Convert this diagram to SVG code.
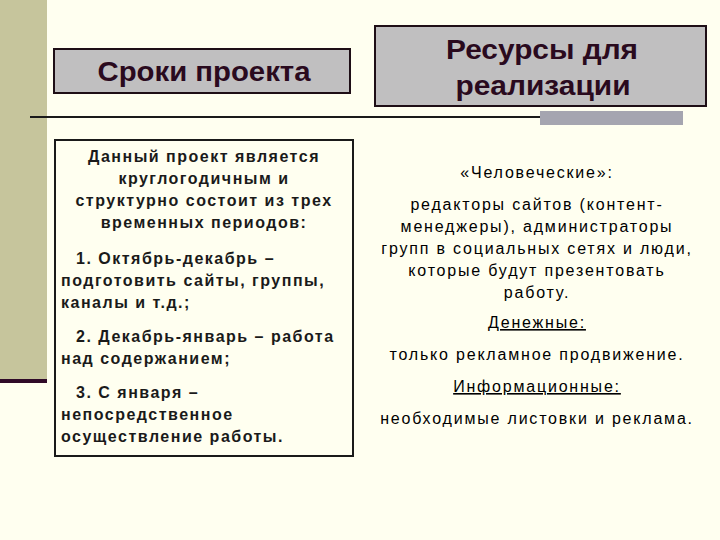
<svg xmlns="http://www.w3.org/2000/svg" width="720" height="540" viewBox="0 0 720 540">
<style>
.t{font-family:"Liberation Sans",Arial,sans-serif;fill:#000}
.h{font-family:"Liberation Sans",Arial,sans-serif;fill:#2a0a1e;font-size:27px;font-weight:bold;text-anchor:middle}
.b{font-size:16px;font-weight:bold;fill:#1a1a1a;letter-spacing:1.5px}
.r{font-size:16px;text-anchor:middle;letter-spacing:1.8px}
.hb{fill:#c0bfc0;stroke:#1e0e16;stroke-width:2}
</style>
<rect width="720" height="540" fill="#fffff0"/>
<rect x="0" y="0" width="47" height="380" fill="#c6c59c"/>
<rect x="0" y="379" width="47" height="4" fill="#300a28"/>
<line x1="30" y1="117" x2="540" y2="117" stroke="#1a1a1a" stroke-width="2"/>
<rect x="540" y="111" width="143" height="14" fill="#a5a5b0"/>
<g id="box1"><rect class="hb" x="54" y="49" width="296" height="44"/>
<text class="h" x="204" y="81" textLength="213" lengthAdjust="spacingAndGlyphs">Сроки проекта</text></g>
<g id="box2"><rect class="hb" x="375" y="26" width="331" height="80"/>
<text class="h" x="542" y="59" textLength="192" lengthAdjust="spacingAndGlyphs">Ресурсы для</text><text class="h" x="543" y="95" textLength="175" lengthAdjust="spacingAndGlyphs">реализации</text></g>
<g id="box3"><rect x="55" y="140" width="298" height="316" fill="none" stroke="#1a1a1a" stroke-width="2"/>
<g class="t b" text-anchor="middle">
<text x="204" y="162">Данный проект является</text>
<text x="204" y="184">круглогодичным и</text>
<text x="204" y="206">структурно состоит из трех</text>
<text x="204" y="228">временных периодов:</text></g>
<g class="t b">
<text x="76" y="264">1. Октябрь-декабрь –</text>
<text x="61" y="286">подготовить сайты, группы,</text>
<text x="61" y="308">каналы и т.д.;</text>
<text x="76" y="342">2. Декабрь-январь – работа</text>
<text x="61" y="364">над содержанием;</text>
<text x="76" y="398">3. С января –</text>
<text x="61" y="420">непосредственное</text>
<text x="61" y="442">осуществление работы.</text></g></g>
<g id="resources" class="t r">
<text x="537" y="178">«Человеческие»:</text>
<text x="537" y="210">редакторы сайтов (контент-</text>
<text x="537" y="232">менеджеры), администраторы</text>
<text x="537" y="254">групп в социальных сетях и люди,</text>
<text x="537" y="276">которые будут презентовать</text>
<text x="537" y="298">работу.</text>
<text x="537" y="328" text-decoration="underline">Денежные:</text>
<text x="537" y="360">только рекламное продвижение.</text>
<text x="537" y="392" text-decoration="underline">Информационные:</text>
<text x="537" y="424">необходимые листовки и реклама.</text></g>
</svg>
